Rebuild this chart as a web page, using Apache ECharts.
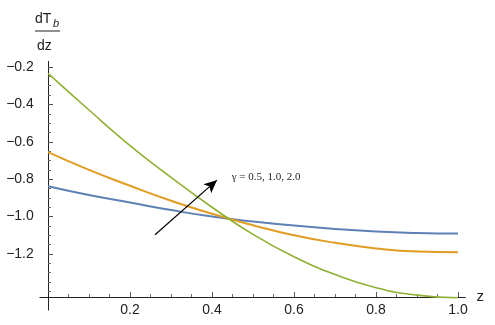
<!DOCTYPE html>
<html>
<head>
<meta charset="utf-8">
<script src="https://cdn.jsdelivr.net/npm/echarts@6/dist/echarts.min.js"></script>
<style>html,body{margin:0;padding:0;background:#fff;}#c{width:495px;height:325px;}</style>
</head>
<body>
<div id="c"></div>
<script>
// ---- data ----
var zValues = [0, 0.1, 0.2, 0.3, 0.4, 0.5, 0.6, 0.7, 0.8, 0.9, 1.0];
var gamma05 = [-0.838, -0.885, -0.925, -0.965, -1.000, -1.026, -1.048, -1.066, -1.080, -1.088, -1.091];
var gamma10 = [-0.655, -0.750, -0.835, -0.915, -0.985, -1.046, -1.100, -1.140, -1.170, -1.187, -1.191];
var gamma20 = [-0.234, -0.430, -0.620, -0.790, -0.950, -1.095, -1.215, -1.310, -1.380, -1.420, -1.434];
var xTickLabels = [0.2, 0.4, 0.6, 0.8, 1.0];
var yTickLabels = [-0.2, -0.4, -0.6, -0.8, -1.0, -1.2];
var xMinorTicks = [0.05,0.1,0.15,0.25,0.3,0.35,0.45,0.5,0.55,0.65,0.7,0.75,0.85,0.9,0.95];
var yMinorTicks = [-0.25,-0.3,-0.35,-0.45,-0.5,-0.55,-0.65,-0.7,-0.75,-0.85,-0.9,-0.95,-1.05,-1.1,-1.15,-1.25,-1.3,-1.35,-1.4];
var arrowFrom = [0.261, -1.097];
var arrowTo = [0.412, -0.805];
var annotationAt = [0.448, -0.788];
var annotationText = 'γ = 0.5, 1.0, 2.0';

// ---- chart ----
var Y_MIN = -1.50, Y_MAX = -0.17, X_AXIS_AT = -1.43;
function pairs(ys){ return zValues.map(function(z,i){ return [z, ys[i]]; }); }
function fmt(v){ return (v < 0 ? '\u2212' : '') + Math.abs(v).toFixed(1); }
var axisColor = '#222';
var FONT = 'Liberation Sans, Arial, sans-serif';
var chart = echarts.init(document.getElementById('c'), null, {renderer:'canvas'});
var option = {
  animation: false,
  grid: {left: 39.8, right: 29.6, top: 61.4, bottom: 14.9, containLabel: false, outerBoundsMode: 'none'},
  xAxis: [{
    type: 'value', min: -0.02, max: 1.018, position: 'bottom',
    axisLine: {onZero: true, onZeroAxisIndex: 1, lineStyle: {color: axisColor, width: 1}},
    axisTick: {show: true, inside: true, length: 5, customValues: xTickLabels, lineStyle: {color: '#555'}},
    axisLabel: {customValues: xTickLabels, formatter: fmt, color: axisColor, fontSize: 14, fontFamily: FONT, margin: -7},
    splitLine: {show: false},
    name: 'z', nameLocation: 'end', nameGap: 11,
    nameTextStyle: {color: axisColor, fontSize: 15, fontFamily: FONT, verticalAlign: 'middle'}
  }, {
    type: 'value', min: -0.02, max: 1.018, position: 'bottom',
    axisLine: {show: false, onZero: true, onZeroAxisIndex: 1},
    axisTick: {show: true, inside: true, length: 3, customValues: xMinorTicks, lineStyle: {color: '#666'}},
    axisLabel: {show: false}, splitLine: {show: false}
  }],
  yAxis: [{
    type: 'value', min: Y_MIN, max: Y_MAX, position: 'left',
    axisLine: {show: true, onZero: true, onZeroAxisIndex: 0, lineStyle: {color: axisColor, width: 1}},
    axisTick: {show: true, inside: true, length: 5, customValues: yTickLabels, lineStyle: {color: '#555'}},
    axisLabel: {customValues: yTickLabels, formatter: fmt, color: axisColor, fontSize: 14, fontFamily: FONT, margin: 6},
    splitLine: {show: false}
  }, {
    type: 'value', show: false, min: Y_MIN - X_AXIS_AT, max: Y_MAX - X_AXIS_AT, position: 'right',
    splitLine: {show: false}
  }, {
    type: 'value', min: Y_MIN, max: Y_MAX, position: 'left',
    axisLine: {show: false, onZero: true, onZeroAxisIndex: 0},
    axisTick: {show: true, inside: true, length: 3, customValues: yMinorTicks, lineStyle: {color: '#666'}},
    axisLabel: {show: false}, splitLine: {show: false}
  }],
  graphic: [
    {type: 'text', left: 35, top: 12, style: {text: 'dT', fontSize: 14, fontFamily: FONT, fill: '#222'}},
    {type: 'text', left: 53, top: 18, style: {text: 'b', fontSize: 11, fontStyle: 'italic', fontFamily: FONT, fill: '#222'}},
    {type: 'line', shape: {x1: 35, y1: 31, x2: 60, y2: 31}, style: {stroke: '#222', lineWidth: 1}},
    {type: 'text', left: 37, top: 39, style: {text: 'dz', fontSize: 14, fontFamily: FONT, fill: '#222'}}
  ],
  series: [{
    name: 'γ=0.5', type: 'line', data: pairs(gamma05), smooth: true, showSymbol: false,
    lineStyle: {color: '#5E81B5', width: 2}, itemStyle: {color: '#5E81B5'},
    markLine: {
      silent: true, animation: false,
      symbol: ['none', 'arrow'], symbolSize: [9, 13],
      lineStyle: {color: '#000', width: 1.2, type: 'solid'},
      label: {show: false},
      data: [[{coord: arrowFrom}, {coord: arrowTo}]]
    },
    markPoint: {
      silent: true, symbol: 'circle', symbolSize: 0,
      label: {show: true, position: 'right', distance: 0, formatter: annotationText, color: '#222', fontSize: 11, fontFamily: 'Liberation Serif, Times New Roman, serif'},
      data: [{coord: annotationAt}]
    }
  }, {
    name: 'γ=1.0', type: 'line', data: pairs(gamma10), smooth: true, showSymbol: false,
    lineStyle: {color: '#E19C24', width: 2}, itemStyle: {color: '#E19C24'}
  }, {
    name: 'γ=2.0', type: 'line', data: pairs(gamma20), smooth: true, showSymbol: false,
    lineStyle: {color: '#8FB032', width: 1.6}, itemStyle: {color: '#8FB032'}
  }]
};
chart.setOption(option);
</script>
</body>
</html>
